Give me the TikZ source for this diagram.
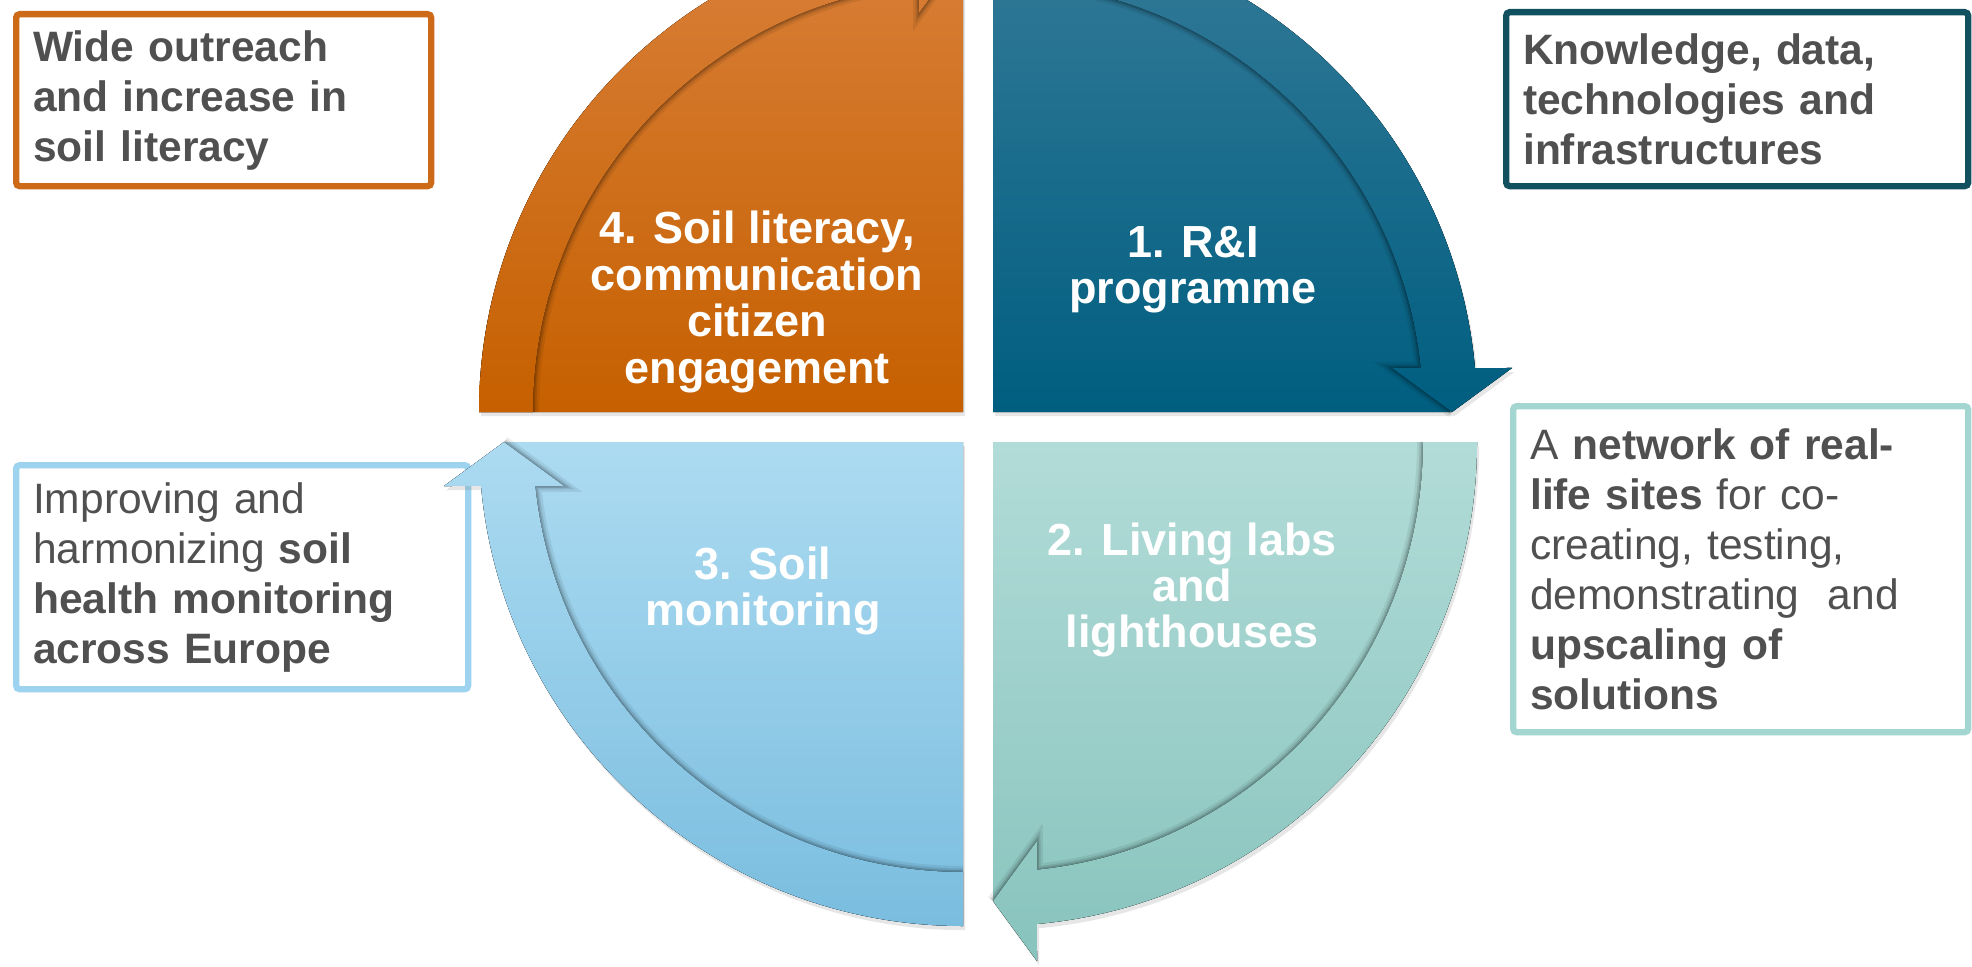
\documentclass[tikz,border=0pt]{standalone}
\usepackage{fontspec}
\setmainfont{Liberation Sans}
\usetikzlibrary{shadows}

\definecolor{orgA}{RGB}{218,130,62}
\definecolor{orgB}{RGB}{198,96,0}
\definecolor{petA}{RGB}{52,122,152}
\definecolor{petB}{RGB}{0,94,128}
\definecolor{tealA}{RGB}{178,220,216}
\definecolor{tealB}{RGB}{136,195,189}
\definecolor{skyA}{RGB}{172,219,241}
\definecolor{skyB}{RGB}{122,189,223}
\definecolor{orgline}{RGB}{204,106,23}
\definecolor{petline}{RGB}{16,80,95}
\definecolor{tealline}{RGB}{163,214,209}
\definecolor{skyline}{RGB}{157,211,239}
\definecolor{txtgray}{RGB}{80,80,80}

\tikzset{
  goalbox/.style={draw=#1, line width=1.8pt, rounded corners=1pt, fill=white,
    anchor=north west, inner xsep=0.17cm, inner ysep=0pt, align=left,
    text=txtgray, font=\fontsize{12.1}{14.2}\selectfont},
  boldbox/.style={font=\fontsize{12.1}{14.2}\selectfont\bfseries},
  steplabel/.style={text=white, align=center,
    font=\fontsize{12.8}{13.2}\selectfont\bfseries},
  % arrow band on the rim of a quadrant, turned by #1 degrees
  rimband/.style={insert path={({#1+90}:4.84) arc[start angle={#1+90}, end angle={#1+5.2}, radius=4.84]
    -- ({#1+4.85}:5.209) -- ({#1}:4.59) -- ({#1+6.29}:4.014) -- ({#1+5.9}:4.30)
    arc[start angle={#1+5.9}, end angle={#1+90}, radius=4.30] -- cycle}},
  % soft edge under the band
  rimshade/.style={insert path={({#1+90}:4.30) arc[start angle={#1+90}, end angle={#1+5.9}, radius=4.30]
    -- ({#1+6.29}:4.014) -- ({#1}:4.59)}}
}

\begin{document}
\begin{tikzpicture}
  \useasboundingbox (0,0) rectangle (19.72,9.66);
  \clip (0,0) rectangle (19.72,9.66);

  \coordinate (petcorner) at (9.93,5.54);
  \coordinate (orgcorner) at (9.63,5.54);
  \coordinate (tealcorner) at (9.93,5.24);
  \coordinate (skycorner) at (9.63,5.24);

  % boxes
  \node[goalbox=orgline, boldbox, text width=3.81cm, minimum height=1.72cm] (outreach) at (0.13,9.55)
    {Wide outreach\\and increase in\\soil literacy};
  \node[goalbox=petline, boldbox, text width=4.28cm, minimum height=1.74cm] (knowledge) at (15.03,9.57)
    {Knowledge, data,\\technologies and\\infrastructures};
  \node[goalbox=tealline, text width=4.21cm, minimum height=3.26cm] (network) at (15.10,5.63)
    {A \textbf{network of real-}\\\textbf{life sites} for co-\\creating, testing,\\demonstrating~ and\\\textbf{upscaling of}\\\textbf{solutions}};
  \node[goalbox=skyline, text width=4.18cm, minimum height=2.24cm] (monitoring) at (0.13,5.04)
    {Improving and\\harmonizing \textbf{soil}\\\textbf{health monitoring}\\\textbf{across Europe}};

  % the four quarters
  \foreach \a/\c/\ca/\cb in {0/petcorner/petA/petB, 90/orgcorner/orgA/orgB,
                             -90/tealcorner/tealA/tealB, 180/skycorner/skyA/skyB}{
    \begin{scope}[shift={(\c)}]
      \fill[top color=\ca, bottom color=\cb, rimband=\a,
            drop shadow={opacity=0.2, shadow xshift=0.6pt, shadow yshift=-1.2pt}]
        (0,0) -- ({\a+90}:4.57) arc[start angle=\a+90, end angle=\a, radius=4.57] -- cycle;
      \draw[black, opacity=0.07, line width=3.4pt, rimshade=\a];
      \draw[black, opacity=0.1, line width=2pt, rimshade=\a];
      \draw[black, opacity=0.15, line width=1pt, rimshade=\a];
      \fill[top color=\ca, bottom color=\cb, rimband=\a];
    \end{scope}
  }

  \node[steplabel] (ri) at (11.93,6.96) {1. R\&I\\programme};
  \node[steplabel] (living) at (11.92,3.76) {2. Living labs\\and\\lighthouses};
  \node[steplabel] (soil) at (7.63,3.75) {3. Soil\\monitoring};
  \node[steplabel] (literacy) at (7.57,6.64) {4. Soil literacy,\\communication\\citizen\\engagement};
\end{tikzpicture}
\end{document}
